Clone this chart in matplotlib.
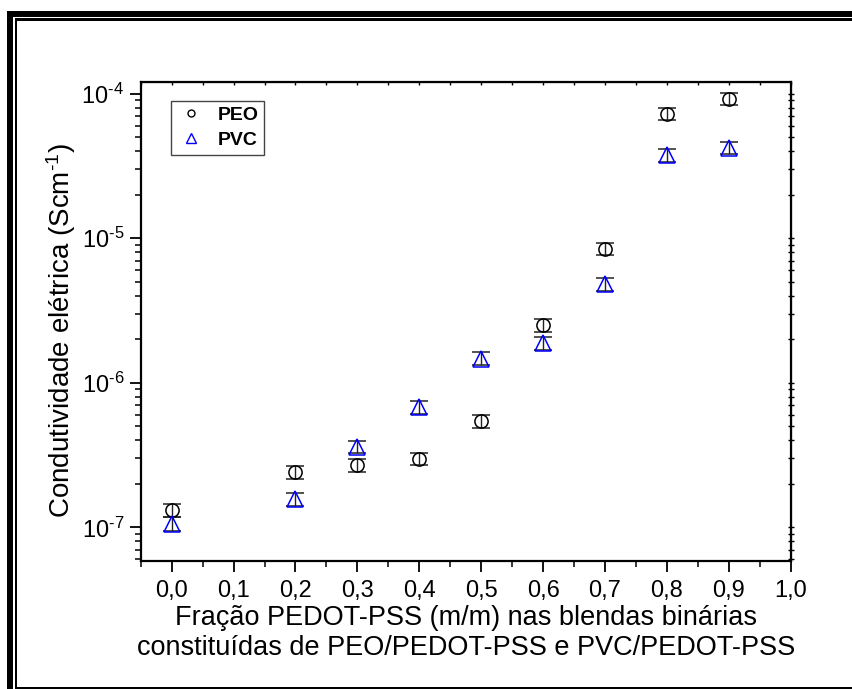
import matplotlib
matplotlib.use("Agg")
import numpy as np
import matplotlib.pyplot as plt
from matplotlib.patches import Rectangle
from matplotlib.lines import Line2D
from matplotlib.ticker import LogLocator, FixedLocator, NullFormatter, FuncFormatter

plt.rcParams['font.family'] = ['Liberation Sans', 'DejaVu Sans']
plt.rcParams['mathtext.fontset'] = 'custom'
plt.rcParams['mathtext.rm'] = 'Liberation Sans'
plt.rcParams['mathtext.it'] = 'Liberation Sans:italic'
plt.rcParams['mathtext.default'] = 'regular'

# fraction of PEDOT-PSS in each blend
fracao = [0.0, 0.2, 0.3, 0.4, 0.5, 0.6, 0.7, 0.8, 0.9]

# conductivity (S/cm) and error
peo = [1.31e-7, 2.40e-7, 2.70e-7, 2.99e-7, 5.41e-7, 2.50e-6, 8.47e-6, 7.24e-5, 9.19e-5]
peo_err = [1.3e-8, 2.4e-8, 2.7e-8, 3.0e-8, 5.4e-8, 2.5e-7, 8.5e-7, 7.2e-6, 9.2e-6]
pvc = [1.06e-7, 1.56e-7, 3.62e-7, 6.76e-7, 1.47e-6, 1.87e-6, 4.78e-6, 3.74e-5, 4.22e-5]
pvc_err = [1.1e-8, 1.6e-8, 3.6e-8, 6.8e-8, 1.5e-7, 1.9e-7, 4.8e-7, 3.7e-6, 4.2e-6]

xticks = [0.0, 0.1, 0.2, 0.3, 0.4, 0.5, 0.6, 0.7, 0.8, 0.9, 1.0]
xticklabels = ['0,0', '0,1', '0,2', '0,3', '0,4', '0,5', '0,6', '0,7', '0,8', '0,9', '1,0']

W, H = 853, 689
fig = plt.figure(figsize=(W / 100, H / 100), dpi=100)
ax = fig.add_axes([140.7 / W, 1 - 560.7 / H, 650 / W, 479 / H])


def px_rect(x0, y0, x1, y1):
    # black bar given in pixel coords (y from the top)
    fig.add_artist(Rectangle((x0 / W, 1 - y1 / H), (x1 - x0) / W, (y1 - y0) / H,
                             transform=fig.transFigure, facecolor='k',
                             edgecolor='none'))


# double frame round the figure
px_rect(7, 11, 12.7, 700)
px_rect(7, 11, 860, 16.7)
px_rect(14.7, 18.3, 16.7, 688.5)
px_rect(14.7, 18.3, 860, 20.5)
px_rect(14.7, 686.5, 860, 688.5)

ax.errorbar(fracao, peo, yerr=peo_err, fmt='o', ms=9.5, mfc='none', mec='k',
            mew=1.1, ecolor='#222222', elinewidth=1.0, capsize=6.8, capthick=1.2,
            zorder=3)
ax.errorbar(fracao, pvc, yerr=pvc_err, fmt='^', ms=11, mfc='none', mec='#0000ff',
            mew=1.1, ecolor='#222222', elinewidth=1.0, capsize=6.8, capthick=1.2,
            zorder=3)

ax.set_yscale('log')
ax.set_xlim(-0.05, 1.0)
ax.set_ylim(10 ** -7.231, 10 ** -3.918)

ax.set_xticks(xticks)
ax.set_xticklabels(xticklabels)
ax.xaxis.set_minor_locator(FixedLocator(np.arange(-0.05, 1.0, 0.1)))
ax.yaxis.set_major_locator(LogLocator(base=10, numticks=10))
ax.yaxis.set_major_formatter(FuncFormatter(
    lambda v, pos: '$10^{\u2010%d}$' % round(-np.log10(v))))
ax.yaxis.set_minor_locator(LogLocator(base=10, subs=np.arange(2, 10), numticks=20))
ax.yaxis.set_minor_formatter(NullFormatter())

ax.tick_params(which='major', direction='out', length=8, width=1.3, labelsize=17, pad=4)
ax.tick_params(which='minor', direction='out', length=4.5, width=1.1)
ax.tick_params(axis='x', which='major', pad=6)
ax.tick_params(top=False, right=False, which='both')

for s in ax.spines.values():
    s.set_linewidth(1.6)

# short mirror ticks on top and right
ax2 = ax.secondary_xaxis('top')
ax2.set_xticks(xticks)
ax2.set_xticklabels([])
ax2.xaxis.set_minor_locator(FixedLocator(np.arange(-0.05, 1.0, 0.1)))
ax2.tick_params(which='both', direction='in', length=2.5, width=1.0)
ax3 = ax.secondary_yaxis('right')
ax3.set_yscale('log')
ax3.yaxis.set_major_locator(LogLocator(base=10, numticks=10))
ax3.yaxis.set_minor_locator(LogLocator(base=10, subs=np.arange(2, 10), numticks=20))
ax3.yaxis.set_major_formatter(NullFormatter())
ax3.yaxis.set_minor_formatter(NullFormatter())
ax3.tick_params(which='both', direction='inout', length=4, width=1.0)

ax.set_ylabel('Condutividade elétrica (Scm$^{\u20101}$)', fontsize=20)
ax.yaxis.set_label_coords(-0.097, 0.48)
ax.set_xlabel('Fração PEDOT-PSS (m/m) nas blendas binárias\n'
              'constituídas de PEO/PEDOT-PSS e PVC/PEDOT-PSS', fontsize=19.5,
              linespacing=1.22, labelpad=2)

handles = [
    Line2D([], [], ls='none', marker='o', ms=5, mfc='none', mec='k', mew=1.0),
    Line2D([], [], ls='none', marker='^', ms=7, mfc='none', mec='#0000ff', mew=1.0),
]
leg = ax.legend(handles, ['PEO', 'PVC'], loc='upper left',
                bbox_to_anchor=(0.046, 0.96), borderaxespad=0,
                fancybox=False, edgecolor='#444444', framealpha=1,
                prop={'weight': 'bold', 'size': 14}, handletextpad=0.6,
                borderpad=0.3, labelspacing=0.35, handlelength=1.5)
leg.get_frame().set_linewidth(1.0)

fig.savefig('out.png', dpi=100)
